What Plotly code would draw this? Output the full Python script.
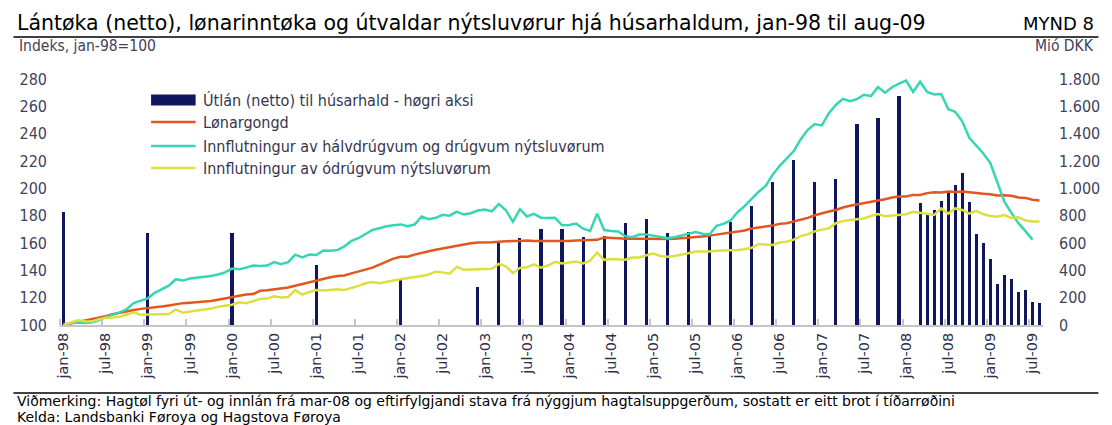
import plotly.graph_objects as go

# ── Data ──────────────────────────────────────────────────
MONTH_NAMES = ["jan", "feb", "mar", "apr", "mai", "jun",
               "jul", "aug", "sep", "okt", "nov", "des"]
months = [f"{MONTH_NAMES[i % 12]}-{(98 + i // 12) % 100:02d}" for i in range(140)]

# Útlán (netto), Mió DKK (right axis)
loan_dates = ["jan-98", "jan-99", "jan-00", "jan-01", "jan-02", "des-02",
              "mar-03", "jun-03", "sep-03", "des-03", "mar-04", "jun-04",
              "sep-04", "des-04", "mar-05", "jun-05", "sep-05", "des-05",
              "mar-06", "jun-06", "sep-06", "des-06", "mar-07", "jun-07",
              "sep-07", "des-07",
              "mar-08", "apr-08", "mai-08", "jun-08", "jul-08", "aug-08",
              "sep-08", "okt-08", "nov-08", "des-08", "jan-09", "feb-09",
              "mar-09", "apr-09", "mai-09", "jun-09", "jul-09", "aug-09"]
loan_values = [830, 676, 676, 440, 335, 281,
               598, 640, 703, 703, 647, 654,
               750, 777, 672, 684, 672, 757,
               874, 1043, 1204, 1043, 1067, 1468,
               1512, 1673,
               896, 806, 842, 908, 972, 1026,
               1111, 901, 669, 603, 484, 300,
               366, 337, 244, 259, 168, 161]

# Lønargongd, index jan-98=100
wages = [100, 101, 102.3, 103, 104.3, 105.5, 106.5, 107.8, 109, 110,
         111, 111.8, 112.3, 112.5, 113.5, 114.3, 115.2, 116, 116.3, 116.6,
         117, 117.5, 118.5, 119.5, 120.5, 121.8, 122.3, 122.6, 125, 125.4,
         126, 126.8, 127.5, 128.7, 130, 131.5, 132.8, 133.8, 135, 135.8,
         136.2, 137.8, 139, 140.5,
         142, 144.2, 146.6, 148.6, 150, 150, 151.5, 153, 154, 155,
         156, 157, 157.9, 158.9, 159.8, 160.3, 160.3, 160.6, 161, 161.5,
         161.5, 161.5, 161.8, 161.5, 161.5, 161, 161, 161.5, 161.5, 161.8,
         162, 162.3, 162.3, 164, 164, 163.5, 163.2, 163, 163.2, 163.2,
         163, 163, 163, 163.2, 163.5, 163.7, 164, 164.7, 165.4, 166.2,
         166.9, 167.6,
         168.1, 169.1, 170.6, 171.1, 172, 172.8, 174, 174.5, 175.7, 176.9,
         178.4, 180.3, 181.8, 183, 184.2, 186, 187.2, 188.2, 189.6, 190.1,
         191.1, 192, 193.3, 194, 194, 195.2, 195.2, 196.5, 197.2, 196.9,
         197.7, 197.4, 197.7, 197.2, 196.5, 196, 195.7, 194.7, 195, 194.5,
         193.3, 193, 191.6, 191.1]

# Innflutningur av hálvdrúgvum og drúgvum nýtsluvørum (ends jul-09)
durables = [100, 101.5, 101.8, 101.5, 101.8, 103.5, 105.8, 107.5, 109.2, 111.5,
            116, 117.8, 119.5, 123.5, 126, 128.8, 133.5, 132.5, 134, 134.5,
            135.5, 135.9, 137, 138.5, 141.3, 140.8, 142, 143.5, 143.2, 143.5,
            146, 144.5, 146, 151.5, 149.5, 151.5, 151.2, 154.5, 154.3, 154.8,
            157.5, 161.5, 163.5, 166.5,
            169.5, 170.8, 172.2, 173, 173.6, 172.2, 173.5, 179.4, 177.4, 178.4,
            180.6, 180, 183, 180.8, 181.8, 183.8, 184.5, 183.2, 188.6, 184,
            175.5, 184.7, 179.4, 181.3, 178.5, 178.3, 178.5, 173, 173.2, 174.2,
            170.5, 168.8, 181.5, 169.5, 168.7, 168.5, 165, 164.3, 166.2, 166.3,
            165.5, 164.2, 163.5, 164.2, 165.4, 166.5, 168, 166.8, 166.2, 172.5,
            174, 176.5,
            182.5, 187, 192, 197.5, 201.7, 210, 216.5, 222, 227.3, 236,
            242.8, 247, 246, 255, 261, 265.5, 263.8, 265.3, 268.5, 267.5,
            274.2, 270, 274, 276.6, 278.8, 270.5, 278, 270.5, 268.7, 269,
            258, 256, 249, 237, 231, 225.5, 218.5, 205, 190.2, 182,
            174.5, 168.7, 162.5, None]

# Innflutningur av ódrúgvum nýtsluvørum
nondurables = [100, 101.5, 103.5, 102.8, 102.5, 104.2, 105.2, 105.4, 106, 107.5,
               109.2, 107.5, 107.5, 107.8, 107.8, 108, 111.3, 109, 109.8, 110.6,
               111.1, 112, 113.4, 114, 114.8, 116.6, 116, 117.5, 119, 119.3,
               121, 120.2, 120.5, 125.5, 122.2, 124.2, 125.6, 125.2, 125.6, 126.1,
               125.6, 127, 128.6, 130.5,
               131.5, 130.5, 131.3, 132.5, 133.5, 134.3, 134.8, 135.8, 137, 139,
               138.5, 137.5, 142.5, 140.5, 140.6, 141, 141, 141.2, 144.7, 143,
               137.9, 141.8, 142.2, 144.3, 142, 143.5, 146.2, 145, 145.5, 146.5,
               145, 147, 153, 147.6, 148.3, 148.3, 147.8, 149.3, 149.4, 151,
               152.3, 150.5, 150, 150.5, 151.3, 152.5, 153.7, 153.7, 153.7, 154.3,
               154.5, 154.5,
               154.8, 155.5, 156.5, 159.2, 158.8, 158.5, 160.3, 161, 162.5, 165,
               166.5, 168.5, 169.8, 170.8, 174.5, 176, 176.8, 177.2, 178, 179.8,
               181.1, 179.5, 180, 180.6, 181.1, 182.8, 182, 181, 180.5, 185.3,
               181.5, 185.3, 184.2, 181.5, 183.5, 181, 179.8, 179.2, 180.5, 178.3,
               178.9, 176.5, 175.7, 175.7]

left_ticks = list(range(100, 281, 20))
right_ticks = list(range(0, 1801, 200))
right_ticktext = ["0", "200", "400", "600", "800", "1.000",
                  "1.200", "1.400", "1.600", "1.800"]

# ── Style ─────────────────────────────────────────────────
NAVY = "#10175f"
ORANGE = "#e2561f"
TEAL = "#36d5b3"
YELLOW = "#dbe03f"
AXIS_TXT = "#42425e"
NARROW = "Liberation Sans Narrow, DejaVu Sans Condensed, sans-serif"
COND = "DejaVu Sans Condensed, Liberation Sans Narrow, sans-serif"
WIDE = "DejaVu Sans, Verdana, sans-serif"

# page body has an 8px margin, so the figure is drawn 8px smaller
PAGE_W, PAGE_H, BODY = 1112, 425, 8
L, R, T, B = 57, 1050, 79, 325   # plot area in page pixels


def px_x(x):
    return (x - L) / (R - L)


def px_y(y):
    return (B - y) / (B - T)


idx = list(range(len(months)))
loan_idx = [months.index(d) for d in loan_dates]

fig = go.Figure()
fig.add_trace(go.Bar(
    x=loan_idx, y=loan_values, name="Útlán (netto) til húsarhald - høgri aksi",
    marker=dict(color=NAVY, line=dict(width=0)), width=0.45, yaxis="y",
))
fig.add_trace(go.Scatter(
    x=idx, y=wages, name="Lønargongd", mode="lines",
    line=dict(color=ORANGE, width=2.5), yaxis="y2",
))
fig.add_trace(go.Scatter(
    x=idx, y=durables, name="Innflutningur av hálvdrúgvum og drúgvum nýtsluvørum",
    mode="lines", line=dict(color=TEAL, width=2.5), yaxis="y2",
))
fig.add_trace(go.Scatter(
    x=idx, y=nondurables, name="Innflutningur av ódrúgvum nýtsluvørum",
    mode="lines", line=dict(color=YELLOW, width=2.5), yaxis="y2",
))

fig.update_layout(
    width=PAGE_W - BODY, height=PAGE_H - BODY,
    paper_bgcolor="white", plot_bgcolor="white",
    margin=dict(l=L - BODY, r=PAGE_W - R, t=T - BODY, b=PAGE_H - B),
    showlegend=False,
    xaxis=dict(
        range=[-0.5, 139.5],
        tickvals=list(range(0, 140, 6)),
        ticktext=[months[i] for i in range(0, 140, 6)],
        tickangle=-90, ticks="",
        tickfont=dict(family=WIDE, size=14.5, color="#2e2e48"),
        showline=True, linecolor="#c4c4c4", linewidth=2,
        showgrid=False, zeroline=False,
        minor=dict(ticks="inside", tickvals=[i - 0.5 for i in range(0, 140, 6)],
                   ticklen=6, tickwidth=1.5, tickcolor="#c4c4c4", showgrid=False),
    ),
    yaxis=dict(
        side="right", range=[0, 1800],
        tickvals=right_ticks, ticktext=right_ticktext,
        ticks="", ticklabelstandoff=15,
        tickfont=dict(family=COND, size=16, color=AXIS_TXT),
        showgrid=False, zeroline=False, showline=False,
    ),
    yaxis2=dict(
        side="left", overlaying="y", range=[100, 280],
        tickvals=left_ticks, ticks="", ticklabelstandoff=12,
        tickfont=dict(family=COND, size=16, color=AXIS_TXT),
        showgrid=False, zeroline=False, showline=False,
    ),
    bargap=0,
)

# ── Legend drawn by hand (wide keys as in the original) ──
legend_items = [
    ("Útlán (netto) til húsarhald - høgri aksi", NAVY, "bar", 100),
    ("Lønargongd", ORANGE, "line", 122),
    ("Innflutningur av hálvdrúgvum og drúgvum nýtsluvørum", TEAL, "line", 146),
    ("Innflutningur av ódrúgvum nýtsluvørum", YELLOW, "line", 168),
]
for label, color, kind, y in legend_items:
    if kind == "bar":
        fig.add_shape(type="rect", xref="paper", yref="paper",
                      x0=px_x(149), x1=px_x(194), y0=px_y(y - 5.5), y1=px_y(y + 5.5),
                      fillcolor=color, line=dict(width=0))
    else:
        fig.add_shape(type="line", xref="paper", yref="paper",
                      x0=px_x(149), x1=px_x(194), y0=px_y(y), y1=px_y(y),
                      line=dict(color=color, width=2.5))
    fig.add_annotation(x=px_x(199), y=px_y(y), xref="paper", yref="paper",
                       text=label, showarrow=False, xanchor="left", yanchor="middle",
                       font=dict(family=NARROW, size=16, color="#35354f"))

notes = [
    (12, 23, "Lántøka (netto), lønarinntøka og útvaldar nýtsluvørur hjá húsarhaldum, jan-98 til aug-09",
     "left", WIDE, 20.5, "black"),
    (1104, 23, "MYND 8", "right", WIDE, 18, "black"),
    (14, 46, "Indeks, jan-98=100", "left", NARROW, 15.5, AXIS_TXT),
    (1104, 46, "Mió DKK", "right", NARROW, 15.5, AXIS_TXT),
    (12, 401, "Viðmerking: Hagtøl fyri út- og innlán frá mar-08 og eftirfylgjandi stava frá "
              "nýggjum hagtalsuppgerðum, sostatt er eitt brot í tíðarrøðini",
     "left", WIDE, 14, "black"),
    (12, 417, "Kelda: Landsbanki Føroya og Hagstova Føroya", "left", WIDE, 14, "black"),
]
for x, y, text, anchor, fam, size, color in notes:
    fig.add_annotation(
        x=px_x(x), y=px_y(y), xref="paper", yref="paper", text=text,
        showarrow=False, xanchor=anchor, yanchor="middle",
        font=dict(family=fam, size=size, color=color),
    )

for y, color, width in [(7, "#8c8c8c", 2), (37, "black", 1.5), (393, "black", 1.5)]:
    fig.add_shape(
        type="line", xref="paper", yref="paper",
        x0=px_x(10), x1=px_x(1106), y0=px_y(y), y1=px_y(y),
        line=dict(color=color, width=width),
    )

fig.write_html("out.html")
